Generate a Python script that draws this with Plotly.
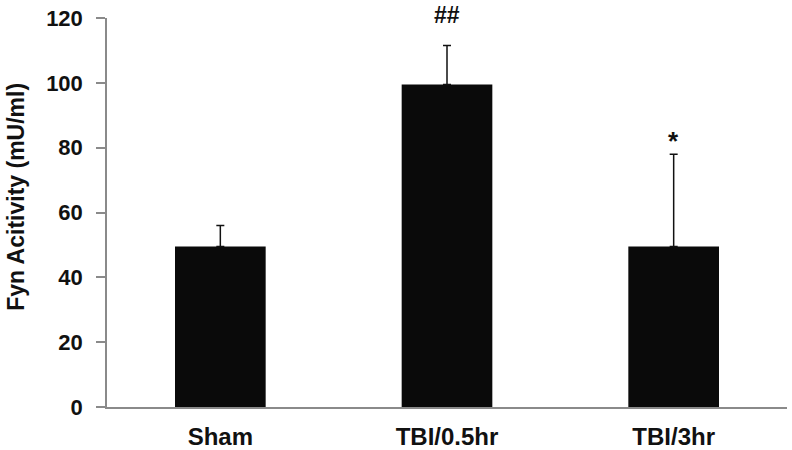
import plotly.graph_objects as go

categories = ["Sham", "TBI/0.5hr", "TBI/3hr"]
means = [49.5, 99.5, 49.5]
errors = [6.5, 12.0, 28.5]
sig_labels = ["", "##", "*"]
y_ticks = [0, 20, 40, 60, 80, 100, 120]
y_title = "Fyn Acitivity (mU/ml)"

FONT = "Liberation Sans, Arial, sans-serif"

fig = go.Figure()
fig.add_trace(go.Bar(
    x=categories, y=means,
    marker=dict(color="#0a0a0a", line=dict(color="#0a0a0a", width=0)),
    width=0.4,
    error_y=dict(type="data", array=errors, arrayminus=[0] * len(errors),
                 symmetric=False, color="#111111", thickness=1.5, width=4),
))

shifts = {"##": 16, "*": -4}
sizes = {"##": 23, "*": 26}
for c, m, e, s in zip(categories, means, errors, sig_labels):
    if s:
        fig.add_annotation(x=c, y=m + e, text=f"<b>{s}</b>", showarrow=False,
                           yanchor="bottom", yshift=shifts[s],
                           font=dict(family=FONT, size=sizes[s], color="#111111"))

# y-axis title as a rotated annotation
fig.add_annotation(xref="paper", yref="paper", x=-0.134, y=0.54,
                   text=f"<b>{y_title}</b>", textangle=-90, showarrow=False,
                   xanchor="center", yanchor="middle",
                   font=dict(family=FONT, size=23, color="#111111"))

fig.update_layout(
    width=792, height=450,
    margin=dict(l=107, r=5, t=18, b=43),
    paper_bgcolor="white", plot_bgcolor="white",
    showlegend=False,
    font=dict(family=FONT, color="#111111"),
)
fig.update_xaxes(
    range=[-0.5, 2.5], showline=True, linecolor="#8a8a8a", linewidth=1.5,
    showgrid=False, ticks="", tickfont=dict(size=24, family=FONT),
    ticklabelstandoff=7, automargin=False,
    tickvals=categories, ticktext=[f"<b>{c}</b>" for c in categories],
)
fig.update_yaxes(
    range=[0, 120], tickvals=y_ticks, ticktext=[f"<b>{t}</b>" for t in y_ticks],
    showline=True, linecolor="#8a8a8a", linewidth=1.5,
    showgrid=False, zeroline=False, ticks="outside", ticklen=9, tickcolor="#8a8a8a", tickwidth=1.5,
    tickfont=dict(size=22, family=FONT), ticklabelstandoff=9, automargin=False,
    ticklabeloverflow="allow",
)

fig.write_html("out.html", config={"displayModeBar": False},
               post_script="document.body.style.margin='0';")
